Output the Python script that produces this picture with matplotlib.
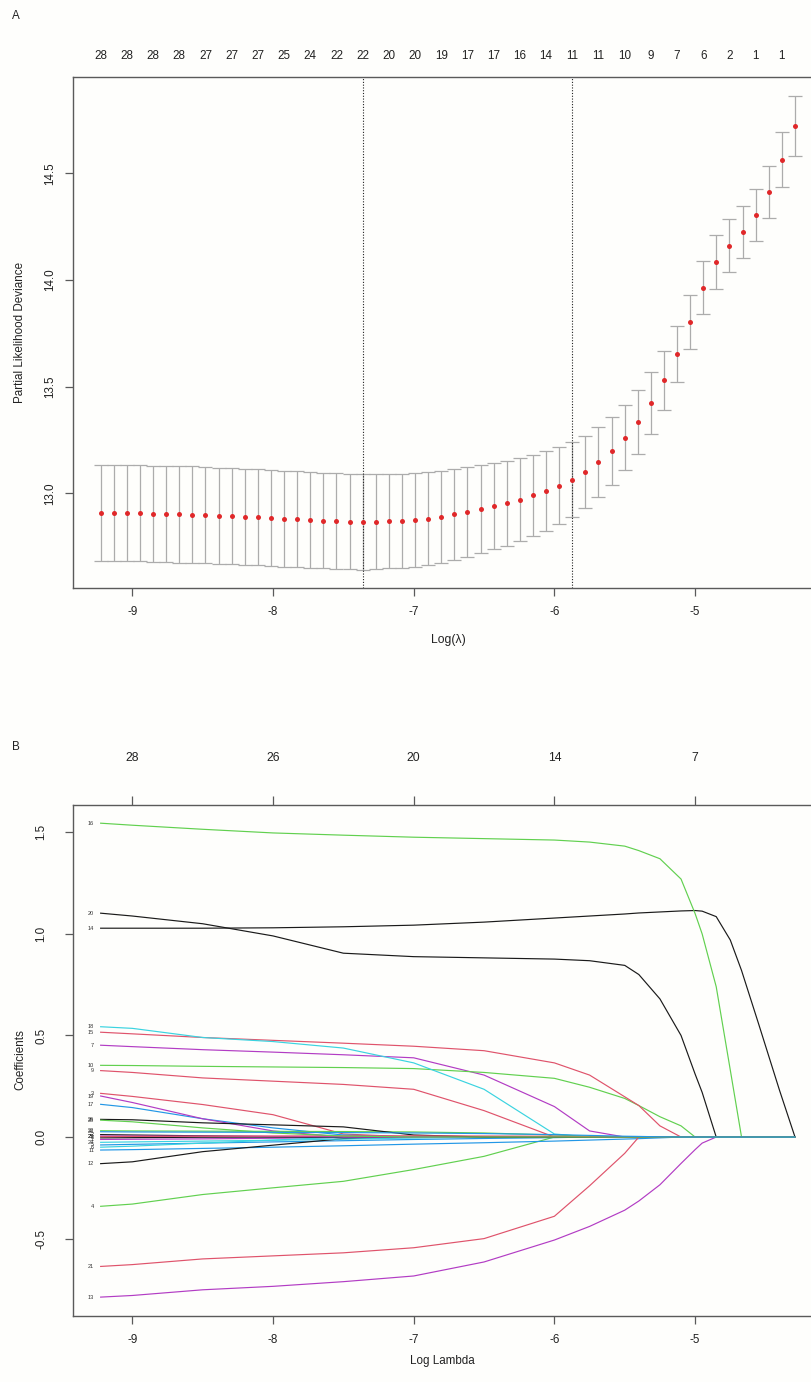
import matplotlib
matplotlib.use("Agg")
import matplotlib.pyplot as plt

plt.rcParams['font.family'] = ['Liberation Sans', 'DejaVu Sans']

# ---- panel A: cross-validated partial likelihood deviance ----
log_lambda = [-9.225, -9.132, -9.039, -8.946, -8.853, -8.760, -8.666, -8.573, -8.480, -8.387,
              -8.294, -8.201, -8.108, -8.015, -7.922, -7.829, -7.735, -7.642, -7.549, -7.456,
              -7.363, -7.270, -7.177, -7.084, -6.991, -6.898, -6.804, -6.711, -6.618, -6.525,
              -6.432, -6.339, -6.246, -6.153, -6.060, -5.967, -5.873, -5.780, -5.687, -5.594,
              -5.501, -5.408, -5.315, -5.222, -5.129, -5.036, -4.942, -4.849, -4.756, -4.663,
              -4.570, -4.477, -4.384, -4.291]
cvm = [12.909, 12.908, 12.908, 12.906, 12.905, 12.903, 12.901, 12.900, 12.897, 12.895,
       12.892, 12.890, 12.887, 12.884, 12.881, 12.878, 12.875, 12.872, 12.869, 12.867,
       12.866, 12.867, 12.869, 12.870, 12.875, 12.881, 12.890, 12.901, 12.914, 12.925,
       12.939, 12.953, 12.970, 12.990, 13.011, 13.036, 13.064, 13.100, 13.145, 13.198,
       13.261, 13.334, 13.422, 13.529, 13.653, 13.803, 13.964, 14.084, 14.161, 14.223,
       14.305, 14.412, 14.564, 14.723]
cvsd = [0.225, 0.225, 0.225, 0.225, 0.225, 0.225, 0.2255, 0.2255, 0.2255, 0.2255,
        0.2255, 0.2255, 0.225, 0.225, 0.225, 0.2245, 0.2245, 0.224, 0.224, 0.2235,
        0.2235, 0.222, 0.221, 0.220, 0.2205, 0.2175, 0.215, 0.213, 0.2105, 0.2055,
        0.2025, 0.1985, 0.1955, 0.191, 0.1865, 0.181, 0.1765, 0.1705, 0.164, 0.158,
        0.153, 0.1485, 0.1445, 0.139, 0.1325, 0.125, 0.123, 0.128, 0.1235, 0.122,
        0.122, 0.1225, 0.127, 0.140]
# number of nonzero coefficients, shown for every second lambda
nzero_shown = [28, 28, 28, 28, 27, 27, 27, 25, 24, 22, 22, 20, 20, 19,
               17, 17, 16, 14, 11, 11, 10, 9, 7, 6, 2, 1, 1]
lambda_min = -7.363
lambda_1se = -5.873

# ---- panel B: coefficient paths (values at these log lambda knots, zero afterwards) ----
knots = [-9.225, -9.0, -8.5, -8.0, -7.5, -7.0, -6.5, -6.0, -5.75, -5.5, -5.4,
         -5.25, -5.1, -5.0, -4.95, -4.85, -4.75, -4.67, -4.55, -4.4, -4.29]
b1 = [-0.012, -0.011, -0.009, -0.006, -0.003, 0]
b2 = [0.012, 0.010, 0.006, 0.002, 0]
b3 = [0.215, 0.200, 0.160, 0.110, 0.015, 0]
b4 = [-0.341, -0.330, -0.283, -0.250, -0.218, -0.160, -0.095, 0]
b5 = [-0.039, -0.036, -0.030, -0.024, -0.018, -0.012, -0.007, -0.003, 0]
b6 = [-0.050, -0.045, -0.030, -0.015, 0]
b7 = [0.452, 0.445, 0.430, 0.418, 0.405, 0.390, 0.305, 0.150, 0.030, 0]
b8 = [-0.004, -0.003, -0.001, 0]
b9 = [0.327, 0.318, 0.291, 0.275, 0.259, 0.235, 0.130, 0]
b10 = [0.353, 0.352, 0.348, 0.345, 0.342, 0.337, 0.318, 0.289, 0.245, 0.190, 0.155, 0.100, 0.055, 0]
b11 = [-0.064, -0.062, -0.056, -0.050, -0.043, -0.035, -0.028, -0.020, -0.015, -0.010, -0.008, -0.004, 0]
b12 = [-0.131, -0.122, -0.072, -0.040, -0.008, 0]
b13 = [-0.788, -0.780, -0.752, -0.735, -0.712, -0.684, -0.615, -0.507, -0.440, -0.360, -0.315,
       -0.235, -0.130, -0.062, -0.030, 0]
b14 = [1.028, 1.028, 1.028, 1.030, 1.035, 1.043, 1.058, 1.078, 1.088, 1.098, 1.103,
       1.108, 1.113, 1.115, 1.112, 1.085, 0.970, 0.820, 0.560, 0.230, 0]
b15 = [0.516, 0.508, 0.490, 0.476, 0.462, 0.447, 0.425, 0.365, 0.305, 0.198, 0.155, 0.055, 0]
b16 = [1.545, 1.535, 1.515, 1.497, 1.486, 1.476, 1.469, 1.462, 1.452, 1.432, 1.410,
       1.370, 1.270, 1.100, 1.000, 0.740, 0.330, 0]
b17 = [0.161, 0.145, 0.090, 0.045, 0.010, 0]
b18 = [0.543, 0.535, 0.490, 0.470, 0.438, 0.365, 0.235, 0.015, 0]
b19 = [0.202, 0.170, 0.090, 0.030, 0]
b20 = [1.102, 1.088, 1.050, 0.990, 0.905, 0.888, 0.882, 0.876, 0.868, 0.845, 0.800,
       0.680, 0.500, 0.310, 0.220, 0]
b21 = [-0.637, -0.628, -0.600, -0.585, -0.570, -0.545, -0.500, -0.390, -0.240, -0.080, 0]
b22 = [0.031, 0.030, 0.029, 0.028, 0.027, 0.025, 0.020, 0.010, 0.004, 0]
b23 = [0.026, 0.025, 0.024, 0.023, 0.022, 0.020, 0.017, 0.012, 0.008, 0.004, 0.003, 0.001, 0]
b24 = [-0.026, -0.024, -0.020, -0.016, -0.010, -0.005, 0]
b25 = [0.005, 0.005, 0.004, 0.003, 0.002, 0]
b26 = [0.087, 0.085, 0.070, 0.060, 0.050, 0.010, 0]
b27 = [0.002, 0.003, 0.004, 0.005, 0.006, 0.006, 0.005, 0.004, 0.002, 0]
b28 = [0.083, 0.075, 0.045, 0.020, 0.005, 0]
top_df_ticks = [-9, -8, -7, -6, -5]
top_df_labels = [28, 26, 20, 14, 7]

# R default palette (col = 1:6), slightly softened like the reference
pal = ['#1a1a1a', '#DF536B', '#61D04F', '#2297E6', '#3ad3e0', '#b23cc4']

W, H = 811, 1382
fig = plt.figure(figsize=(W / 100, H / 100), dpi=100, facecolor='#fefefc')

def px_rect(l, t, r, b):
    return [l / W, 1 - b / H, (r - l) / W, (b - t) / H]

def fig_text(x, y, s, **kw):
    fig.text(x / W, 1 - y / H, s, **kw)

spine_col = '#5a5a5a'
txt_col = '#222222'
fs = 8.4

def style(ax):
    ax.set_facecolor('#fefefc')
    ax.spines['right'].set_visible(False)
    for s in ['left', 'top', 'bottom']:
        ax.spines[s].set_color(spine_col)
        ax.spines[s].set_linewidth(1.0)
    ax.tick_params(direction='out', length=5.8, width=0.9, color=spine_col,
                   labelsize=fs, labelcolor=txt_col)
    ax.tick_params(axis='x', pad=7.5)
    ax.tick_params(axis='y', pad=6.3)

# ---------------- panel A ----------------
axA = fig.add_axes(px_rect(73, 77, 811, 588))
style(axA)
axA.errorbar(log_lambda, cvm, yerr=cvsd, fmt='none', ecolor='#acacac',
             elinewidth=0.9, capsize=4.8, capthick=0.9, zorder=2)
axA.plot(log_lambda, cvm, 'o', color='#e0282a', ms=3.6, mec='none', zorder=3)
axA.axvline(lambda_min, color='#222222', ls=(0, (1, 1.5)), lw=0.8)
axA.axvline(lambda_1se, color='#222222', ls=(0, (1, 1.5)), lw=0.8)
axA.set_xlim(-9.4215, -4.1763)
axA.set_ylim(12.556, 14.951)
axA.set_xticks([-9, -8, -7, -6, -5])
axA.set_xticklabels(['-9', '-8', '-7', '-6', '-5'])
axA.set_yticks([13.0, 13.5, 14.0, 14.5])
axA.set_yticklabels(['13.0', '13.5', '14.0', '14.5'], rotation=90, va='center')

topA = axA.twiny()
topA.set_frame_on(False)
topA.set_xlim(axA.get_xlim())
topA.set_xticks(log_lambda[::2])
topA.set_xticklabels([str(n) for n in nzero_shown])
topA.tick_params(axis='x', length=0, pad=11, labelsize=fs, labelcolor=txt_col)

fig_text(15.5, 16, 'A', fontsize=fs, color=txt_col, ha='center', va='center')
fig_text(20, 332, 'Partial Likelihood Deviance', fontsize=fs, color=txt_col,
         rotation=90, ha='center', va='center')
fig_text(448, 640, 'Log(λ)', fontsize=fs + 0.3, color=txt_col, ha='center', va='center')

# ---------------- panel B ----------------
axB = fig.add_axes(px_rect(73.3, 804.7, 811, 1316))
style(axB)
paths = [(1, b1), (2, b2), (3, b3), (4, b4), (5, b5), (6, b6), (7, b7), (8, b8),
         (9, b9), (10, b10), (11, b11), (12, b12), (13, b13), (14, b14), (15, b15),
         (16, b16), (17, b17), (18, b18), (19, b19), (20, b20), (21, b21), (22, b22),
         (24, b24), (25, b25), (26, b26), (27, b27), (28, b28), (23, b23)]
for var, vals in paths:
    full = vals + [0.0] * (len(knots) - len(vals))
    col = pal[(var + 4) % 6]
    if var == 12:
        col = pal[0]
    axB.plot(knots, full, color=col, lw=0.85, solid_joinstyle='round')
    axB.text(-9.272, vals[0], str(var), fontsize=4, color='#333333',
             ha='right', va='center')
axB.set_xlim(-9.4194, -4.1763)
axB.set_ylim(-0.881, 1.636)
axB.set_xticks([-9, -8, -7, -6, -5])
axB.set_xticklabels(['-9', '-8', '-7', '-6', '-5'])
axB.set_yticks([-0.5, 0.0, 0.5, 1.0, 1.5])
axB.set_yticklabels(['-0.5', '0.0', '0.5', '1.0', '1.5'], rotation=90, va='center')
axB.tick_params(axis='y', pad=13)

topB = axB.twiny()
topB.set_frame_on(False)
topB.set_xlim(axB.get_xlim())
topB.set_xticks(top_df_ticks)
topB.set_xticklabels([str(n) for n in top_df_labels])
topB.tick_params(axis='x', direction='out', length=6.5, width=0.9, color=spine_col,
                 pad=23, labelsize=fs + 0.4, labelcolor=txt_col)

fig_text(15.5, 747, 'B', fontsize=fs, color=txt_col, ha='center', va='center')
fig_text(20, 1060, 'Coefficients', fontsize=fs, color=txt_col,
         rotation=90, ha='center', va='center')
fig_text(442, 1361, 'Log Lambda', fontsize=fs, color=txt_col, ha='center', va='center')

fig.savefig('out.png', dpi=100, facecolor=fig.get_facecolor())
